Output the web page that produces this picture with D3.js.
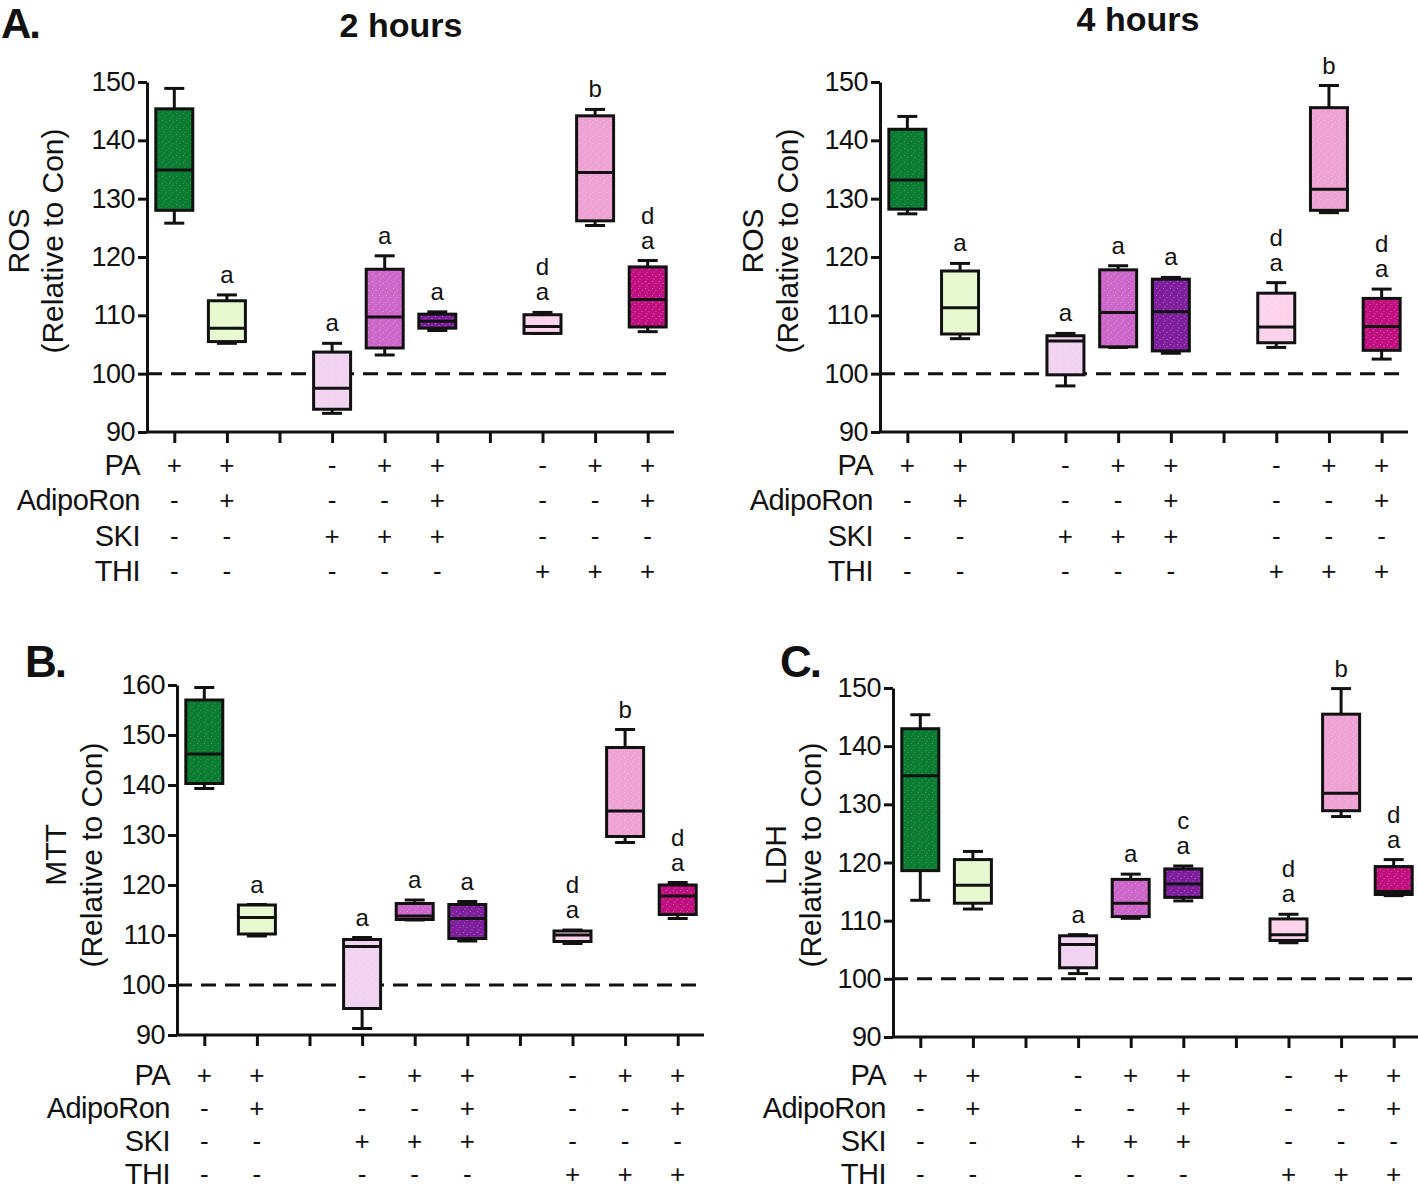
<!DOCTYPE html>
<html><head><meta charset="utf-8">
<script src="https://cdn.jsdelivr.net/npm/d3@7"></script>
<style>
body{margin:0;background:#fff}
svg{display:block}
text{font-family:"Liberation Sans",Arial,sans-serif;fill:#111}
</style>
</head><body>
<svg id="chart" width="1418" height="1192"></svg>
<script>
// ---------- DATA ----------
const groups = ["PA","PA+AdipoRon","SKI","PA+SKI","PA+AdipoRon+SKI","THI","PA+THI","PA+AdipoRon+THI"];
const slots = ["PA","PA+AdipoRon","gap1","SKI","PA+SKI","PA+AdipoRon+SKI","gap2","THI","PA+THI","PA+AdipoRon+THI"];
const groupColors = ["#0a7d32","#e6f9cf","#f1d3f1","#cc66c8","#7f1f9e","#fdd3ec","#eea2d4","#c01080"];

const treatmentRows = ["PA","AdipoRon","SKI","THI"];
const paSigns       = ["+","+","-","+","+","-","+","+"];
const adipoSigns    = ["-","+","-","-","+","-","-","+"];
const skiSigns      = ["-","-","+","+","+","-","-","-"];
const thiSigns      = ["-","-","-","-","-","+","+","+"];

// box stats per group: [whisker low, Q1, median, Q3, whisker high]
const ros2h = [
  [125.8,128.0,134.9,145.4,148.9],
  [105.2,105.5,107.8,112.5,113.5],
  [93.2, 93.9, 97.5,103.7,105.2],
  [103.2,104.4,109.7,117.9,120.2],
  [107.4,107.8,109.0,110.2,110.6],
  [106.9,106.9,108.1,110.1,110.5],
  [125.4,126.2,134.5,144.2,145.3],
  [107.2,108.0,112.7,118.3,119.4]
];
const ros4h = [
  [127.4,128.2,133.2,141.9,144.1],
  [106.0,106.8,111.3,117.6,118.9],
  [97.9, 99.8,105.6,106.5,106.9],
  [104.5,104.6,110.5,117.8,118.5],
  [103.5,103.9,110.6,116.2,116.5],
  [104.5,105.3,108.0,113.8,115.6],
  [127.6,128.0,131.6,145.6,149.4],
  [102.5,104.0,108.1,112.9,114.5]
];
const mtt = [
  [139.3,140.3,146.2,157.0,159.5],
  [109.8,110.2,113.5,116.0,116.1],
  [91.3, 95.3,107.7,109.1,109.5],
  [113.0,113.1,113.8,116.3,117.0],
  [108.8,109.3,113.3,116.1,116.7],
  [108.3,108.7,110.0,110.8,111.0],
  [128.5,129.7,134.8,147.5,151.1],
  [113.3,114.1,117.8,120.0,120.5]
];
const ldh = [
  [113.5,118.6,134.9,143.0,145.4],
  [112.0,113.0,116.1,120.5,121.9],
  [100.9,101.9,105.9,107.4,107.6],
  [110.4,110.7,113.0,117.1,118.0],
  [113.4,114.0,116.3,118.9,119.4],
  [106.2,106.6,107.6,110.3,111.1],
  [127.9,128.9,131.9,145.5,149.9],
  [114.3,114.5,115.0,119.3,120.5]
];

// significance letters (top to bottom)
const ros2hLetters = [[],["a"],["a"],["a"],["a"],["d","a"],["b"],["d","a"]];
const ros4hLetters = [[],["a"],["a"],["a"],["a"],["d","a"],["b"],["d","a"]];
const mttLetters   = [[],["a"],["a"],["a"],["a"],["d","a"],["b"],["d","a"]];
const ldhLetters   = [[],[],["a"],["a"],["c","a"],["d","a"],["b"],["d","a"]];

const rosTicks = [90,100,110,120,130,140,150];
const mttTicks = [90,100,110,120,130,140,150,160];
const ldhTicks = [90,100,110,120,130,140,150];
const referenceLevel = 100;

// ---------- LAYOUT ----------
const svg = d3.select("#chart");
const defs = svg.append("defs");
groupColors.forEach((c,i)=>{
  const p = defs.append("pattern").attr("id","pat"+i).attr("patternUnits","userSpaceOnUse")
    .attr("width",7).attr("height",7);
  p.append("rect").attr("width",7).attr("height",7).attr("fill",c);
  const dot = d3.interpolateRgb(c, i===0 ? "#e0b090" : "#ffffff")(0.45);
  [[1,1],[4.5,3],[2.5,5.5]].forEach(([x,y])=>p.append("rect").attr("x",x).attr("y",y)
    .attr("width",1).attr("height",1).attr("fill",dot).attr("opacity",0.7));
});

const panels = [
  {data:ros2h, letters:ros2hLetters, ticks:rosTicks, x0:147, x1:674, yTop:82, yBot:432,
   yTitle:["ROS","(Relative to Con)"], yTitleX:[18,52], yTitleY:241,
   rowY:[465,500,536,571], title:"2 hours", titleX:401, titleY:37,
   tag:"A.", tagX:1, tagY:38, tagSize:42},
  {data:ros4h, letters:ros4hLetters, ticks:rosTicks, x0:880, x1:1408, yTop:82, yBot:432,
   yTitle:["ROS","(Relative to Con)"], yTitleX:[752,787], yTitleY:241,
   rowY:[465,500,536,571], title:"4 hours", titleX:1138, titleY:31},
  {data:mtt, letters:mttLetters, ticks:mttTicks, x0:177, x1:704, yTop:685, yBot:1035,
   yTitle:["MTT","(Relative to Con)"], yTitleX:[55,91], yTitleY:855,
   rowY:[1075,1108,1141,1174], tag:"B.", tagX:25, tagY:677, tagSize:44},
  {data:ldh, letters:ldhLetters, ticks:ldhTicks, x0:893, x1:1420, yTop:688, yBot:1037,
   yTitle:["LDH","(Relative to Con)"], yTitleX:[775,810], yTitleY:855,
   rowY:[1075,1108,1141,1174], tag:"C.", tagX:780, tagY:677, tagSize:44}
];
const signRows = [paSigns, adipoSigns, skiSigns, thiSigns];

panels.forEach(P=>{
  const g = svg.append("g");
  const y = d3.scaleLinear().domain([P.ticks[0], P.ticks[P.ticks.length-1]]).range([P.yBot, P.yTop]);
  const x = d3.scalePoint().domain(slots).range([P.x0+1, P.x1]).padding(0.5);

  // y axis
  const ya = g.append("g").attr("transform",`translate(${P.x0},0)`)
    .call(d3.axisLeft(y).tickValues(P.ticks).tickSize(9).tickSizeOuter(0).tickPadding(3));
  ya.select(".domain").attr("stroke","#111").attr("stroke-width",3);
  ya.selectAll(".tick line").attr("stroke","#111").attr("stroke-width",3);
  ya.selectAll(".tick text").attr("font-size",27).attr("font-family","Liberation Sans, Arial, sans-serif")
    .attr("fill","#111").attr("letter-spacing",-0.5);

  // x axis
  const xa = g.append("g").attr("transform",`translate(0,${P.yBot})`)
    .call(d3.axisBottom(x).tickSize(11).tickSizeOuter(0).tickFormat(""));
  xa.select(".domain").attr("stroke","#111").attr("stroke-width",3)
    .attr("d",`M${P.x0},0H${P.x1}`);
  xa.selectAll(".tick line").attr("stroke","#111").attr("stroke-width",3);

  // reference dashed line
  g.append("line").attr("x1",P.x0).attr("x2",P.x1)
    .attr("y1",y(referenceLevel)).attr("y2",y(referenceLevel))
    .attr("stroke","#111").attr("stroke-width",3).attr("stroke-dasharray","15,9");

  // boxes
  const bw = 37, cw = 20;
  P.data.forEach((s,i)=>{
    const cx = x(groups[i]);
    const [lo,q1,md,q3,hi] = s;
    const bg = g.append("g");
    bg.append("line").attr("x1",cx).attr("x2",cx).attr("y1",y(hi)).attr("y2",y(q3))
      .attr("stroke","#111").attr("stroke-width",3);
    bg.append("line").attr("x1",cx).attr("x2",cx).attr("y1",y(q1)).attr("y2",y(lo))
      .attr("stroke","#111").attr("stroke-width",3);
    bg.append("line").attr("x1",cx-cw/2).attr("x2",cx+cw/2).attr("y1",y(hi)).attr("y2",y(hi))
      .attr("stroke","#111").attr("stroke-width",3);
    bg.append("line").attr("x1",cx-cw/2).attr("x2",cx+cw/2).attr("y1",y(lo)).attr("y2",y(lo))
      .attr("stroke","#111").attr("stroke-width",3);
    bg.append("rect").attr("x",cx-bw/2).attr("width",bw).attr("y",y(q3)).attr("height",y(q1)-y(q3))
      .attr("fill",`url(#pat${i})`).attr("stroke","#111").attr("stroke-width",3);
    bg.append("line").attr("x1",cx-bw/2).attr("x2",cx+bw/2).attr("y1",y(md)).attr("y2",y(md))
      .attr("stroke","#111").attr("stroke-width",3);
    // letters
    const L = P.letters[i];
    L.slice().reverse().forEach((t,k)=>{
      g.append("text").attr("x",cx).attr("y",y(hi)-12-k*25).attr("text-anchor","middle")
        .attr("font-size",24).text(t);
    });
  });

  // treatment table
  treatmentRows.forEach((r,ri)=>{
    g.append("text").attr("x",P.x0-7).attr("y",P.rowY[ri]).attr("dy","0.36em")
      .attr("text-anchor","end").attr("font-size",29).attr("letter-spacing",-0.5).text(r);
    signRows[ri].forEach((sg,i)=>{
      g.append("text").attr("x",x(groups[i])).attr("y",P.rowY[ri]).attr("dy","0.36em")
        .attr("text-anchor","middle").attr("font-size",26).text(sg);
    });
  });

  // y titles
  P.yTitle.forEach((t,k)=>{
    g.append("text").attr("transform",`translate(${P.yTitleX[k]},${P.yTitleY}) rotate(-90)`)
      .attr("text-anchor","middle").attr("dy","0.36em").attr("font-size",30).text(t);
  });

  if (P.title) g.append("text").attr("x",P.titleX).attr("y",P.titleY).attr("text-anchor","middle")
    .attr("font-size",34).attr("font-weight","bold").text(P.title);
  if (P.tag) g.append("text").attr("x",P.tagX).attr("y",P.tagY)
    .attr("font-size",P.tagSize).attr("font-weight","bold").attr("letter-spacing",-2).text(P.tag);
});
</script>
</body></html>
